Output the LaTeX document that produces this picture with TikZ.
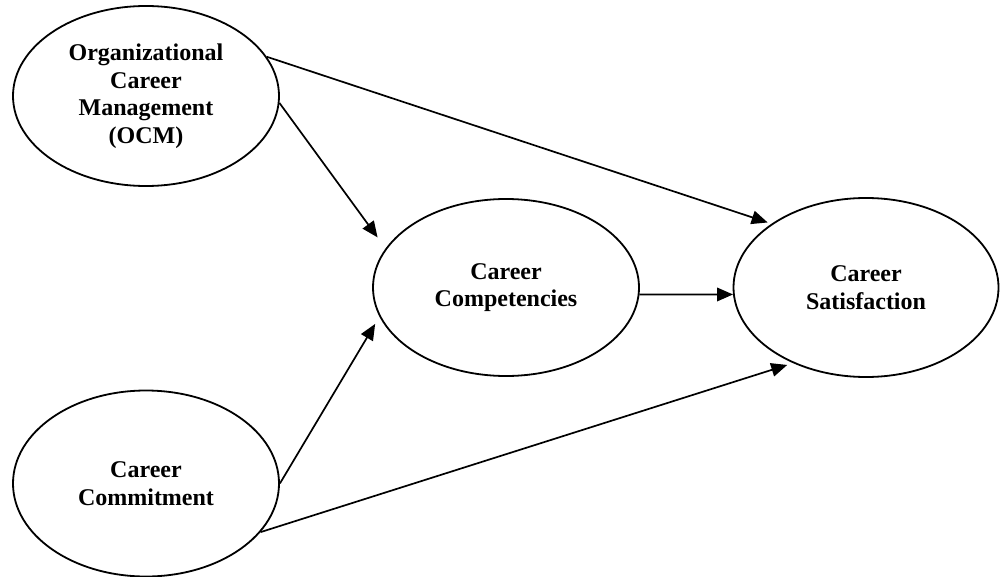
\documentclass[tikz,border=0pt]{standalone}
\usepackage{fontspec}
\setmainfont{Liberation Serif}
\usetikzlibrary{shapes.geometric,arrows.meta}
\begin{document}
\begin{tikzpicture}[x=0.5pt,y=-0.5pt,
  construct/.style={draw, ellipse, line width=0.9pt, inner sep=0pt, align=center,
    font=\bfseries\fontsize{12}{13.75}\selectfont},
  link/.style={line width=0.85pt, -{Triangle[length=8pt,width=6.8pt]}}]
\useasboundingbox (0,0) rectangle (1000,577);
\node[construct, minimum width=133pt, minimum height=90pt] (ocm) at (146,96)
  {Organizational\\Career\\Management\\(OCM)};
\node[construct, minimum width=133pt, minimum height=93pt] (com) at (146,483.5)
  {Career\\Commitment};
\node[construct, minimum width=133pt, minimum height=88.5pt] (cc) at (506,287.5)
  {Career\\Competencies};
\node[construct, minimum width=132.5pt, minimum height=89.5pt] (cs) at (866,287.5)
  {Career\\Satisfaction};
\draw[link, shorten >=2pt] (ocm.18.6) -- (cs.146.9);
\draw[link, shorten >=6.8pt] (ocm.-3.9) -- (cc.162.3);
\draw[link, shorten >=4.2pt] (com.0) -- (cc.193.7);
\draw[link, shorten >=3pt] (com.-23.8) -- (cs.226.3);
\draw[link] (cc.-3.25) -- (cs.183.2);
\end{tikzpicture}
\end{document}
